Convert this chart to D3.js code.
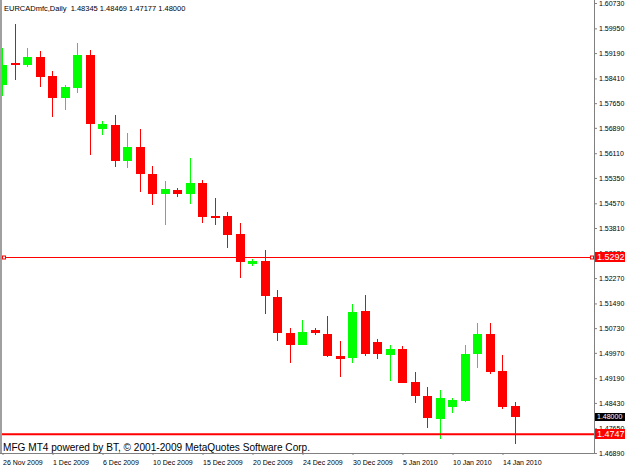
<!DOCTYPE html>
<html>
<head>
<meta charset="utf-8">
<script src="https://cdn.jsdelivr.net/npm/d3@7"></script>
<style>
  body { margin: 0; background: #fff; }
  svg { display: block; font-family: "Liberation Sans", Arial, sans-serif; }
</style>
</head>
<body>
<div id="chart"></div>
<script>
// daily bars, EURCAD
var dates = ["2009-11-26","2009-11-27","2009-11-29","2009-11-30","2009-12-01","2009-12-02","2009-12-03","2009-12-04",
  "2009-12-06","2009-12-07","2009-12-08","2009-12-09","2009-12-10","2009-12-11","2009-12-13","2009-12-14",
  "2009-12-15","2009-12-16","2009-12-17","2009-12-18","2009-12-20","2009-12-21","2009-12-22","2009-12-23",
  "2009-12-24","2009-12-27","2009-12-28","2009-12-29","2009-12-30","2009-12-31","2010-01-03","2010-01-04",
  "2010-01-05","2010-01-06","2010-01-07","2010-01-08","2010-01-10","2010-01-11","2010-01-12","2010-01-13",
  "2010-01-14","2010-01-15"];
var opens  = [1.5821,1.5887,1.5882,1.5908,1.5849,1.5780,1.5811,1.5913,1.5685,1.5698,1.5588,1.5629,1.5547,1.5485,1.5498,1.5486,
  1.5519,1.5419,1.5419,1.5363,1.5270,1.5280,1.5170,1.5059,1.5021,1.5067,1.5054,1.4988,1.4980,1.5126,1.5029,1.4991,
  1.5009,1.4908,1.4864,1.4794,1.4831,1.4850,1.4993,1.5055,1.4941,1.48345];
var highs  = [1.5934,1.6008,1.5935,1.5926,1.5865,1.5821,1.5949,1.5928,1.5711,1.5729,1.5672,1.5686,1.5573,1.5526,1.5505,1.5597,
  1.5529,1.5474,1.5431,1.5395,1.5286,1.5313,1.5190,1.5073,1.5098,1.5074,1.5110,1.5033,1.5146,1.5175,1.5039,1.5021,
  1.5019,1.4939,1.4893,1.4883,1.4857,1.5021,1.5088,1.5088,1.4990,1.48469];
var lows   = [1.5787,1.5836,1.5876,1.5814,1.5722,1.5744,1.5797,1.5606,1.5667,1.5568,1.5565,1.5493,1.5453,1.5390,1.5477,1.5454,
  1.5395,1.5390,1.5319,1.5228,1.5265,1.5116,1.5033,1.4965,1.5021,1.5052,1.4984,1.4924,1.4965,1.4988,1.4978,1.4911,
  1.4903,1.4842,1.4767,1.4731,1.4813,1.4847,1.4951,1.4932,1.4823,1.47177];
var closes = [1.5882,1.5882,1.5907,1.5845,1.5780,1.5814,1.5913,1.5701,1.5700,1.5588,1.5629,1.5547,1.5485,1.5501,1.5486,1.5520,
  1.5416,1.5416,1.5360,1.5276,1.5280,1.5173,1.5057,1.5021,1.5062,1.5057,1.4988,1.4979,1.5124,1.4993,1.4994,1.5009,
  1.4905,1.4864,1.4798,1.4859,1.4852,1.4994,1.5055,1.4939,1.4831,1.48000];

var priceTicks = [1.60730,1.59950,1.59190,1.58410,1.57650,1.56890,1.56110,1.55350,1.54570,1.53810,
  1.53030,1.52270,1.51490,1.50730,1.49970,1.49190,1.48430,1.47650,1.46890];
var dateTickLabels = ["26 Nov 2009","1 Dec 2009","6 Dec 2009","10 Dec 2009","15 Dec 2009","20 Dec 2009",
  "24 Dec 2009","30 Dec 2009","5 Jan 2010","10 Jan 2010","14 Jan 2010"];

var symbol = "EURCADmfc,Daily";
var lastBar = [1.48345, 1.48469, 1.47177, 1.48000];
var hLines = [1.5292, 1.4747];
var bidPrice = 1.48000;

var svgWidth = 625, svgHeight = 469;
var plotRight = 594, plotBottom = 453;

var svg = d3.select("#chart").append("svg")
  .attr("width", svgWidth)
  .attr("height", svgHeight);

svg.append("rect").attr("width", svgWidth).attr("height", svgHeight).attr("fill", "#fff");

var x = d3.scalePoint()
  .domain(dates)
  .range([2.5, 515]);

var y = d3.scaleLinear()
  .domain([1.4689, 1.6073])
  .range([plotBottom, 3]);

svg.append("clipPath").attr("id", "plot")
  .append("rect").attr("x", 2).attr("y", 0).attr("width", plotRight - 2).attr("height", plotBottom);

var bars = dates.map(function(d, i) {
  return { date: d, o: opens[i], h: highs[i], l: lows[i], c: closes[i] };
});

var candles = svg.append("g").attr("clip-path", "url(#plot)")
  .attr("shape-rendering", "crispEdges");

var colour = function(d) { return d.c >= d.o ? "#00ff00" : "#ff0000"; };

candles.selectAll("rect.wick")
  .data(bars)
  .enter()
  .append("rect")
  .attr("class", "wick")
  .attr("x", d => Math.floor(x(d.date)))
  .attr("width", 1)
  .attr("y", d => Math.round(y(d.h)))
  .attr("height", d => Math.max(1, Math.round(y(d.l)) - Math.round(y(d.h))))
  .attr("fill", colour);

candles.selectAll("rect.body")
  .data(bars)
  .enter()
  .append("rect")
  .attr("class", "body")
  .attr("x", d => Math.floor(x(d.date)) - 4)
  .attr("width", 9)
  .attr("y", d => Math.round(y(Math.max(d.o, d.c))))
  .attr("height", d => Math.max(2, Math.round(y(Math.min(d.o, d.c))) - Math.round(y(Math.max(d.o, d.c)))))
  .attr("fill", colour);

// frame
svg.append("rect").attr("x", 0).attr("y", 0).attr("width", 2).attr("height", plotBottom + 1).attr("fill", "#a0a0a0");

// price axis
var yAxis = d3.axisRight(y)
  .tickValues(priceTicks)
  .tickSize(3)
  .tickPadding(2)
  .tickFormat(d3.format(".5f"));

var yAxisG = svg.append("g")
  .attr("transform", "translate(" + plotRight + ",0)")
  .call(yAxis);
yAxisG.select(".domain").attr("stroke", "#808080").attr("d", "M0.5,0V" + (plotBottom + 0.5));
yAxisG.selectAll(".tick line").attr("stroke", "#808080");
yAxisG.selectAll(".tick text")
  .attr("font-size", 7)
  .attr("font-family", "Liberation Sans, Arial, sans-serif")
  .attr("fill", "#000");

// time axis
var xAxis = d3.axisBottom(x)
  .tickValues(dates.filter((d, i) => i % 4 === 0))
  .tickSize(2)
  .tickFormat((d, i) => dateTickLabels[i]);

var xAxisG = svg.append("g")
  .attr("transform", "translate(0," + plotBottom + ")")
  .call(xAxis);
xAxisG.select(".domain").attr("stroke", "#808080").attr("d", "M0,0.5H" + (plotRight + 1));
xAxisG.selectAll(".tick line").attr("stroke", "#808080");
xAxisG.selectAll(".tick text")
  .attr("text-anchor", "start")
  .attr("y", 12)
  .attr("dy", 0)
  .attr("font-size", 7)
  .attr("font-family", "Liberation Sans, Arial, sans-serif")
  .attr("fill", "#000");

// horizontal lines
svg.append("line")
  .attr("x1", 2).attr("x2", plotRight)
  .attr("y1", Math.round(y(hLines[0])) + 0.5).attr("y2", Math.round(y(hLines[0])) + 0.5)
  .attr("stroke", "#ff0000").attr("stroke-width", 1);
[4, plotRight - 2].forEach(function(cx) {
  svg.append("rect")
    .attr("x", cx - 1.5).attr("y", Math.round(y(hLines[0])) - 1)
    .attr("width", 3).attr("height", 3)
    .attr("fill", "#fff").attr("stroke", "#ff0000").attr("stroke-width", 1);
});
svg.append("line")
  .attr("x1", 2).attr("x2", plotRight)
  .attr("y1", y(hLines[1])).attr("y2", y(hLines[1]))
  .attr("stroke", "#ff0000").attr("stroke-width", 2);

// price labels on the axis
function axisLabel(price, text, bg, size, h) {
  var cy = y(price);
  svg.append("rect")
    .attr("x", plotRight + 1).attr("y", Math.round(cy - h / 2))
    .attr("width", svgWidth - plotRight - 1).attr("height", h)
    .attr("fill", bg);
  svg.append("text")
    .attr("x", plotRight + 3).attr("y", cy)
    .attr("dy", "0.36em")
    .attr("font-size", size)
    .attr("fill", "#fff")
    .text(text);
}
axisLabel(hLines[0], "1.5292", "#ff0000", 9, 10);
axisLabel(bidPrice, "1.48000", "#000", 7, 8);
axisLabel(hLines[1], "1.4747", "#ff0000", 9, 10);

// header and footer text
svg.append("text")
  .attr("x", 4).attr("y", 10.5)
  .attr("font-size", 7.5)
  .attr("fill", "#000")
  .attr("xml:space", "preserve")
  .text(symbol + "  " + lastBar.map(d3.format(".5f")).join(" "));

svg.append("text")
  .attr("x", 3).attr("y", 451)
  .attr("font-size", 10.1)
  .attr("fill", "#000")
  .text("MFG MT4 powered by BT, \u00a9 2001-2009 MetaQuotes Software Corp.");
</script>
</body>
</html>
